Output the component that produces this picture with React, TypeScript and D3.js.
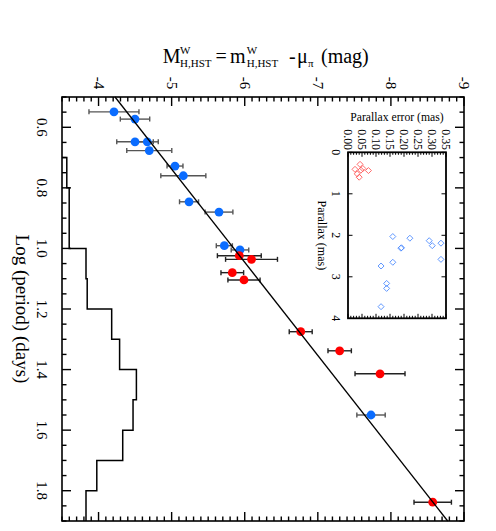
import React from "react";
import * as d3 from "d3";

// ---- main panel data ----
const BLUE_LOGP = [0.549, 0.573, 0.648, 0.648, 0.677, 0.728, 0.760, 0.846, 0.880, 0.991, 1.005, 1.550];
const BLUE_MAG = [-4.211, -4.499, -4.499, -4.667, -4.694, -5.046, -5.160, -5.238, -5.648, -5.721, -5.935, -7.728];
const BLUE_ERR = [0.342, 0.201, 0.25, 0.15, 0.308, 0.109, 0.308, 0.13, 0.19, 0.11, 0.12, 0.194];

const RED_LOGP = [1.024, 1.036, 1.080, 1.104, 1.275, 1.338, 1.414, 1.838];
const RED_MAG = [-5.926, -6.093, -5.830, -5.990, -6.766, -7.299, -7.851, -8.572];
const RED_ERR = [0.30, 0.355, 0.155, 0.22, 0.157, 0.16, 0.342, 0.256];

// PL fit: M = FIT_INTERCEPT + FIT_SLOPE * (logP - 1)
const FIT_INTERCEPT = -5.851;
const FIT_SLOPE = -3.251;

// histogram of log period (bin lower edges, width 0.1)
const HIST_LO = [0.7, 0.8, 0.9, 1.0, 1.1, 1.2, 1.3, 1.4, 1.5, 1.6, 1.7, 1.8];
const HIST_COUNT = [2, 3, 3, 10, 10.5, 20.7, 24, 31, 29.6, 25.3, 14.5, 10];

const X_TICKS = [-4, -5, -6, -7, -8, -9];
const Y_TICKS = [0.6, 0.8, 1.0, 1.2, 1.4, 1.6, 1.8];

// ---- inset data ----
const INSET_RED_ERR = [0.043, 0.025, 0.046, 0.073, 0.033, 0.040, 0.053];
const INSET_RED_PLX = [0.29, 0.41, 0.43, 0.44, 0.52, 0.60, 0.39];
const INSET_BLUE_ERR = [0.160, 0.221, 0.290, 0.301, 0.332, 0.189, 0.191, 0.332, 0.160, 0.118, 0.138, 0.138, 0.118];
const INSET_BLUE_PLX = [2.03, 2.07, 2.13, 2.25, 2.19, 2.31, 2.30, 2.58, 2.65, 2.74, 3.16, 3.28, 3.72];
const INSET_X_TICKS = ["0.00", "0.05", "0.10", "0.15", "0.20", "0.25", "0.30", "0.35"];
const INSET_Y_TICKS = [0, 1, 2, 3, 4];

const FONT = "'Liberation Serif', 'Times New Roman', serif";
const BLUE = "#0a6cff";
const RED = "#ff0000";

export default function App() {
  const W = 496, H = 531;
  const L = 62, R = 464, T = 97, B = 521;
  const x = d3.scaleLinear().domain([-3.5, -9]).range([L, R]);
  const y = d3.scaleLinear().domain([0.5, 1.9]).range([T, B]);
  const hx = d3.scaleLinear().domain([0, 10]).range([L, L + 24]);

  const minorX = d3.range(-3.5, -9.0001, -0.1).map((v) => +v.toFixed(2));
  const minorY = d3.range(0.5, 1.9001, 0.05).map((v) => +v.toFixed(2));
  const isMajorX = (v: number) => Math.abs(v - Math.round(v)) < 1e-6;
  const isMajorY = (v: number) => Math.abs(v * 5 - Math.round(v * 5)) < 1e-6;

  // histogram path
  let hp = `M${hx(0)},${y(HIST_LO[0])}`;
  HIST_LO.forEach((lo, i) => {
    hp += `L${hx(HIST_COUNT[i])},${y(lo)}L${hx(HIST_COUNT[i])},${y(lo + 0.1)}`;
  });

  const fitLine = d3
    .line<number>()
    .x((p) => x(FIT_INTERCEPT + FIT_SLOPE * (p - 1)))
    .y((p) => y(p));

  // inset scales
  const iL = 348, iR = 446, iT = 152.3, iB = 318.3;
  const ix = d3.scaleLinear().domain([0, 0.35]).range([iL, iR]);
  const iy = d3.scaleLinear().domain([0, 4]).range([iT, iB]);
  const iMinorX = d3.range(0, 0.3501, 0.01).map((v) => +v.toFixed(3));
  const diamond = (cx: number, cy: number, s = 3) =>
    `M${cx},${cy - s}L${cx + s},${cy}L${cx},${cy + s}L${cx - s},${cy}Z`;

  const errBars = (lp: number[], mag: number[], err: number[], color: string) =>
    lp.map((p, i) => {
      const yy = y(p);
      const x1 = x(mag[i] - err[i]);
      const x2 = x(mag[i] + err[i]);
      return (
        <g key={i} stroke={color} strokeWidth={1.4}>
          <line x1={x1} x2={x2} y1={yy} y2={yy} />
          <line x1={x1} x2={x1} y1={yy - 2.5} y2={yy + 2.5} />
          <line x1={x2} x2={x2} y1={yy - 2.5} y2={yy + 2.5} />
        </g>
      );
    });

  return (
    <svg width={W} height={H} style={{ position: "absolute", left: 0, top: 0 }} fontFamily={FONT}>
      <rect width={W} height={H} fill="#fff" />
      {/* title */}
      <text y={63} fontSize={20} fill="#000">
        <tspan x={162.7}>M</tspan>
        <tspan x={180} y={54} fontSize={11}>W</tspan>
        <tspan x={180} y={67} fontSize={11}>H,HST</tspan>
        <tspan x={215.5} y={63}>=</tspan>
        <tspan x={230} y={63}>m</tspan>
        <tspan x={246.7} y={54} fontSize={11}>W</tspan>
        <tspan x={246.7} y={67} fontSize={11}>H,HST</tspan>
        <tspan x={289} y={63}>-</tspan>
        <tspan x={297} y={63}>μ</tspan>
        <tspan x={308} y={67} fontSize={11}>π</tspan>
        <tspan x={321} y={63}>(mag)</tspan>
      </text>

      {/* x tick labels */}
      {X_TICKS.map((v) => (
        <text key={v} transform={`translate(${x(v)},83) rotate(90)`} textAnchor="middle" dominantBaseline="central" fontSize={15}>
          {v}
        </text>
      ))}
      {/* y tick labels */}
      {Y_TICKS.map((v) => (
        <text key={v} transform={`translate(41.7,${y(v)}) rotate(90)`} textAnchor="middle" dominantBaseline="central" fontSize={15}>
          {v.toFixed(1)}
        </text>
      ))}
      <text transform={`translate(22,${(T + B) / 2}) rotate(90)`} textAnchor="middle" dominantBaseline="central" fontSize={19}>
        Log (period) (days)
      </text>

      {/* histogram */}
      <path d={hp} fill="none" stroke="#000" strokeWidth={1.5} />

      {/* error bars and points */}
      {errBars(BLUE_LOGP, BLUE_MAG, BLUE_ERR, "#555")}
      {BLUE_LOGP.map((p, i) => (
        <circle key={i} cx={x(BLUE_MAG[i])} cy={y(p)} r={4.4} fill={BLUE} />
      ))}
      {errBars(RED_LOGP, RED_MAG, RED_ERR, "#222")}
      {RED_LOGP.map((p, i) => (
        <circle key={i} cx={x(RED_MAG[i])} cy={y(p)} r={4.4} fill={RED} />
      ))}

      {/* fit line */}
      <path d={fitLine([0.5, 1.9]) || ""} fill="none" stroke="#000" strokeWidth={1.3} />

      {/* main ticks */}
      <g stroke="#000" strokeWidth={1.4}>
        {minorX.map((v) => {
          const len = isMajorX(v) ? 9 : 4.5;
          return (
            <g key={v}>
              <line x1={x(v)} x2={x(v)} y1={T} y2={T + len} />
              <line x1={x(v)} x2={x(v)} y1={B} y2={B - len} />
            </g>
          );
        })}
        {minorY.map((v) => {
          const len = isMajorY(v) ? 9 : 4.5;
          return (
            <g key={v}>
              <line x1={L} x2={L + len} y1={y(v)} y2={y(v)} />
              <line x1={R} x2={R - len} y1={y(v)} y2={y(v)} />
            </g>
          );
        })}
      </g>
      <rect x={L} y={T} width={R - L} height={B - T} fill="none" stroke="#000" strokeWidth={1.6} />

      {/* inset */}
      <rect x={iL} y={iT} width={iR - iL} height={iB - iT} fill="#fff" stroke="none" />
      {INSET_RED_ERR.map((e, i) => (
        <path key={i} d={diamond(ix(e), iy(INSET_RED_PLX[i]))} fill="none" stroke="#ff5a5a" strokeWidth={0.9} />
      ))}
      {INSET_BLUE_ERR.map((e, i) => (
        <path key={i} d={diamond(ix(e), iy(INSET_BLUE_PLX[i]))} fill="none" stroke="#4f8cff" strokeWidth={0.9} />
      ))}
      <g stroke="#000" strokeWidth={1}>
        {iMinorX.map((v) => {
          const major = Math.abs(v * 20 - Math.round(v * 20)) < 1e-6;
          const len = major ? 4.5 : 2.5;
          return (
            <g key={v}>
              <line x1={ix(v)} x2={ix(v)} y1={iT} y2={iT + len} />
              <line x1={ix(v)} x2={ix(v)} y1={iB} y2={iB - len} />
            </g>
          );
        })}
        {INSET_Y_TICKS.map((v) => (
          <g key={v}>
            <line x1={iL} x2={iL + 4.5} y1={iy(v)} y2={iy(v)} />
            <line x1={iR} x2={iR - 4.5} y1={iy(v)} y2={iy(v)} />
          </g>
        ))}
      </g>
      <rect x={iL} y={iT} width={iR - iL} height={iB - iT} fill="none" stroke="#000" strokeWidth={1.8} />
      <text x={(iL + iR) / 2} y={121} textAnchor="middle" fontSize={11.7}>
        Parallax error (mas)
      </text>
      {INSET_X_TICKS.map((t) => (
        <text key={t} transform={`translate(${ix(+t)},139.7) rotate(90)`} textAnchor="middle" dominantBaseline="central" fontSize={11.8}>
          {t}
        </text>
      ))}
      {INSET_Y_TICKS.map((v) => (
        <text key={v} transform={`translate(336,${iy(v)}) rotate(90)`} textAnchor="middle" dominantBaseline="central" fontSize={12}>
          {v}
        </text>
      ))}
      <text transform={`translate(322,${(iT + iB) / 2}) rotate(90)`} textAnchor="middle" dominantBaseline="central" fontSize={12}>
        Parallax (mas)
      </text>
    </svg>
  );
}
